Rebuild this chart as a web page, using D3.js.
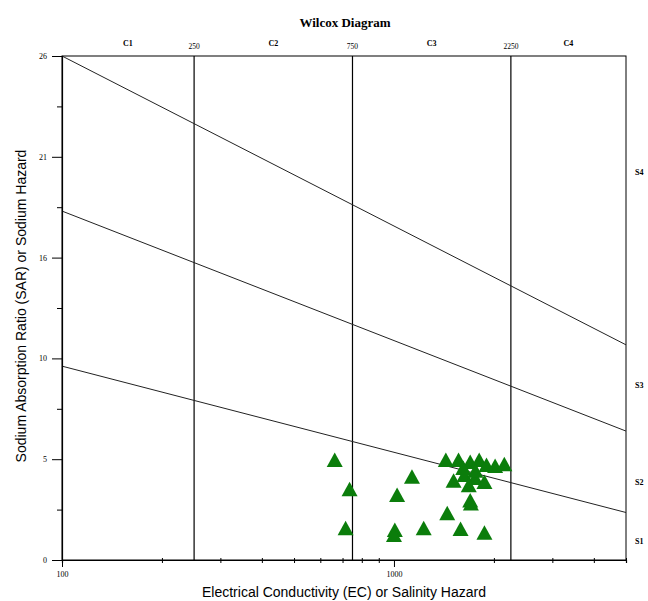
<!DOCTYPE html>
<html>
<head>
<meta charset="utf-8">
<script src="https://cdn.jsdelivr.net/npm/d3@7/dist/d3.min.js"></script>
<style>
	body { margin: 0; background: #fff; }
	svg text { fill: #000; }
</style>
</head>
<body>
<svg id="chart" width="648" height="601"></svg>
<script>
// samples: EC (micromhos/cm) and SAR
var ecValues = [663, 735, 715, 1133, 1022, 1006, 1000, 1229, 1447, 1587, 1873, 1697, 1705,
	1433, 1565, 1697, 1806, 2017, 2150, 1512, 1756, 1631, 1873, 1617, 1680, 1760, 1900];
var sarValues = [5.16, 3.65, 1.64, 4.30, 3.35, 1.55, 1.29, 1.64, 2.41, 1.60, 1.41, 3.07, 2.91,
	5.16, 5.16, 5.06, 5.16, 4.85, 4.94, 4.09, 4.23, 4.38, 4.02, 4.75, 3.85, 4.6, 4.9];

var classBreaks = [250, 750, 2250];
var classNames = ["C1", "C2", "C3", "C4"];
var classMids = [158, 433, 1299, 3354];

// sodium hazard boundaries: SAR at EC=100 and at EC=5000
var sodiumLines = [[26, 11.1], [18, 6.65], [10, 2.45]];
var sodiumNames = ["S1", "S2", "S3", "S4"];
var sodiumLabelSar = [0.95, 4.0, 9.0, 20.0];

var yMajor = [0, 5.2, 10.4, 15.6, 20.8, 26];
var yMinor = [2.6, 7.8, 13, 18.2, 23.4];
var xMajor = [100, 1000];
var xMinor = [200, 300, 400, 500, 600, 700, 800, 900, 2000, 3000, 4000, 5000];

var margin = {top: 56, right: 22, bottom: 41, left: 62},
	width = 648 - margin.left - margin.right,
	height = 601 - margin.top - margin.bottom;

var svg = d3.select("#chart");
var g = svg.append("g")
	.attr("transform", "translate(" + margin.left + "," + margin.top + ")");

var x = d3.scaleLog().domain([100, 5000]).range([0, width]);
var y = d3.scaleLinear().domain([0, 26]).range([height, 0]);

// frame
g.append("rect")
	.attr("width", width)
	.attr("height", height)
	.attr("fill", "none")
	.attr("stroke", "#000")
	.attr("stroke-width", 1);

// salinity class lines
g.selectAll(".cline").data(classBreaks).enter()
	.append("line")
	.attr("x1", function(d) { return x(d); })
	.attr("x2", function(d) { return x(d); })
	.attr("y1", 0)
	.attr("y2", height)
	.attr("stroke", "#000")
	.attr("stroke-width", 1.2);

// sodium class lines
g.selectAll(".sline").data(sodiumLines).enter()
	.append("line")
	.attr("x1", x(100))
	.attr("y1", function(d) { return y(d[0]); })
	.attr("x2", x(5000))
	.attr("y2", function(d) { return y(d[1]); })
	.attr("stroke", "#222")
	.attr("stroke-width", 1);

// x axis
var xMinorAxis = d3.axisBottom(x).tickValues(xMinor).tickSize(3).tickFormat("");
var xMinorG = g.append("g")
	.attr("transform", "translate(0," + height + ")")
	.call(xMinorAxis);
xMinorG.selectAll(".tick line").attr("y1", -2);
xMinorG.select(".domain").attr("stroke-width", 1.2);

g.append("g")
	.attr("transform", "translate(0," + height + ")")
	.call(d3.axisBottom(x).tickValues(xMajor).tickSize(7).tickFormat(d3.format("d")))
	.call(function(a) { a.select(".domain").remove(); })
	.selectAll("text")
	.attr("font-family", "Liberation Serif, serif")
	.attr("font-size", 8)
	.attr("dy", "0.9em");

// y axis
var yMinorG = g.append("g")
	.call(d3.axisLeft(y).tickValues(yMinor).tickSize(5).tickFormat(""));
yMinorG.select(".domain").attr("stroke-width", 1.2);

g.append("g")
	.call(d3.axisLeft(y).tickValues(yMajor).tickSize(10).tickFormat(function(d) { return Math.round(d); }))
	.call(function(a) { a.select(".domain").remove(); })
	.selectAll("text")
	.attr("font-family", "Liberation Serif, serif")
	.attr("font-size", 8)
	.attr("dx", "-2");

// salinity class labels at top
g.selectAll(".clabel").data(classNames).enter()
	.append("text")
	.attr("x", function(d, i) { return x(classMids[i]); })
	.attr("y", -10)
	.attr("text-anchor", "middle")
	.attr("font-family", "Liberation Serif, serif")
	.attr("font-weight", "bold")
	.attr("font-size", 8)
	.text(function(d) { return d; });

g.selectAll(".cval").data(classBreaks).enter()
	.append("text")
	.attr("x", function(d) { return x(d); })
	.attr("y", -7)
	.attr("text-anchor", "middle")
	.attr("font-family", "Liberation Serif, serif")
	.attr("font-size", 7.5)
	.text(function(d) { return d; });

// sodium class labels at right
g.selectAll(".slabel").data(sodiumNames).enter()
	.append("text")
	.attr("x", width + 9)
	.attr("y", function(d, i) { return y(sodiumLabelSar[i]); })
	.attr("dy", "0.35em")
	.attr("font-family", "Liberation Serif, serif")
	.attr("font-weight", "bold")
	.attr("font-size", 8)
	.text(function(d) { return d; });

// samples
var tri = "M0,-7.5L8,7L-8,7Z";
g.selectAll(".pt").data(ecValues).enter()
	.append("path")
	.attr("d", tri)
	.attr("fill", "#0b7d0b")
	.attr("transform", function(d, i) {
		return "translate(" + x(d) + "," + y(sarValues[i]) + ")";
	});

// titles
svg.append("text")
	.attr("x", 345)
	.attr("y", 27)
	.attr("text-anchor", "middle")
	.attr("font-family", "Liberation Serif, serif")
	.attr("font-weight", "bold")
	.attr("font-size", 13)
	.text("Wilcox Diagram");

svg.append("text")
	.attr("x", margin.left + width / 2)
	.attr("y", 597)
	.attr("text-anchor", "middle")
	.attr("font-family", "Liberation Sans, Arial, sans-serif")
	.attr("font-size", 14)
	.attr("fill", "#222")
	.text("Electrical Conductivity (EC) or Salinity Hazard");

svg.append("text")
	.attr("transform", "translate(26," + (margin.top + height / 2 - 2) + ") rotate(-90)")
	.attr("text-anchor", "middle")
	.attr("font-family", "Liberation Sans, Arial, sans-serif")
	.attr("font-size", 14)
	.attr("fill", "#222")
	.text("Sodium Absorption Ratio (SAR) or Sodium Hazard");
</script>
</body>
</html>
